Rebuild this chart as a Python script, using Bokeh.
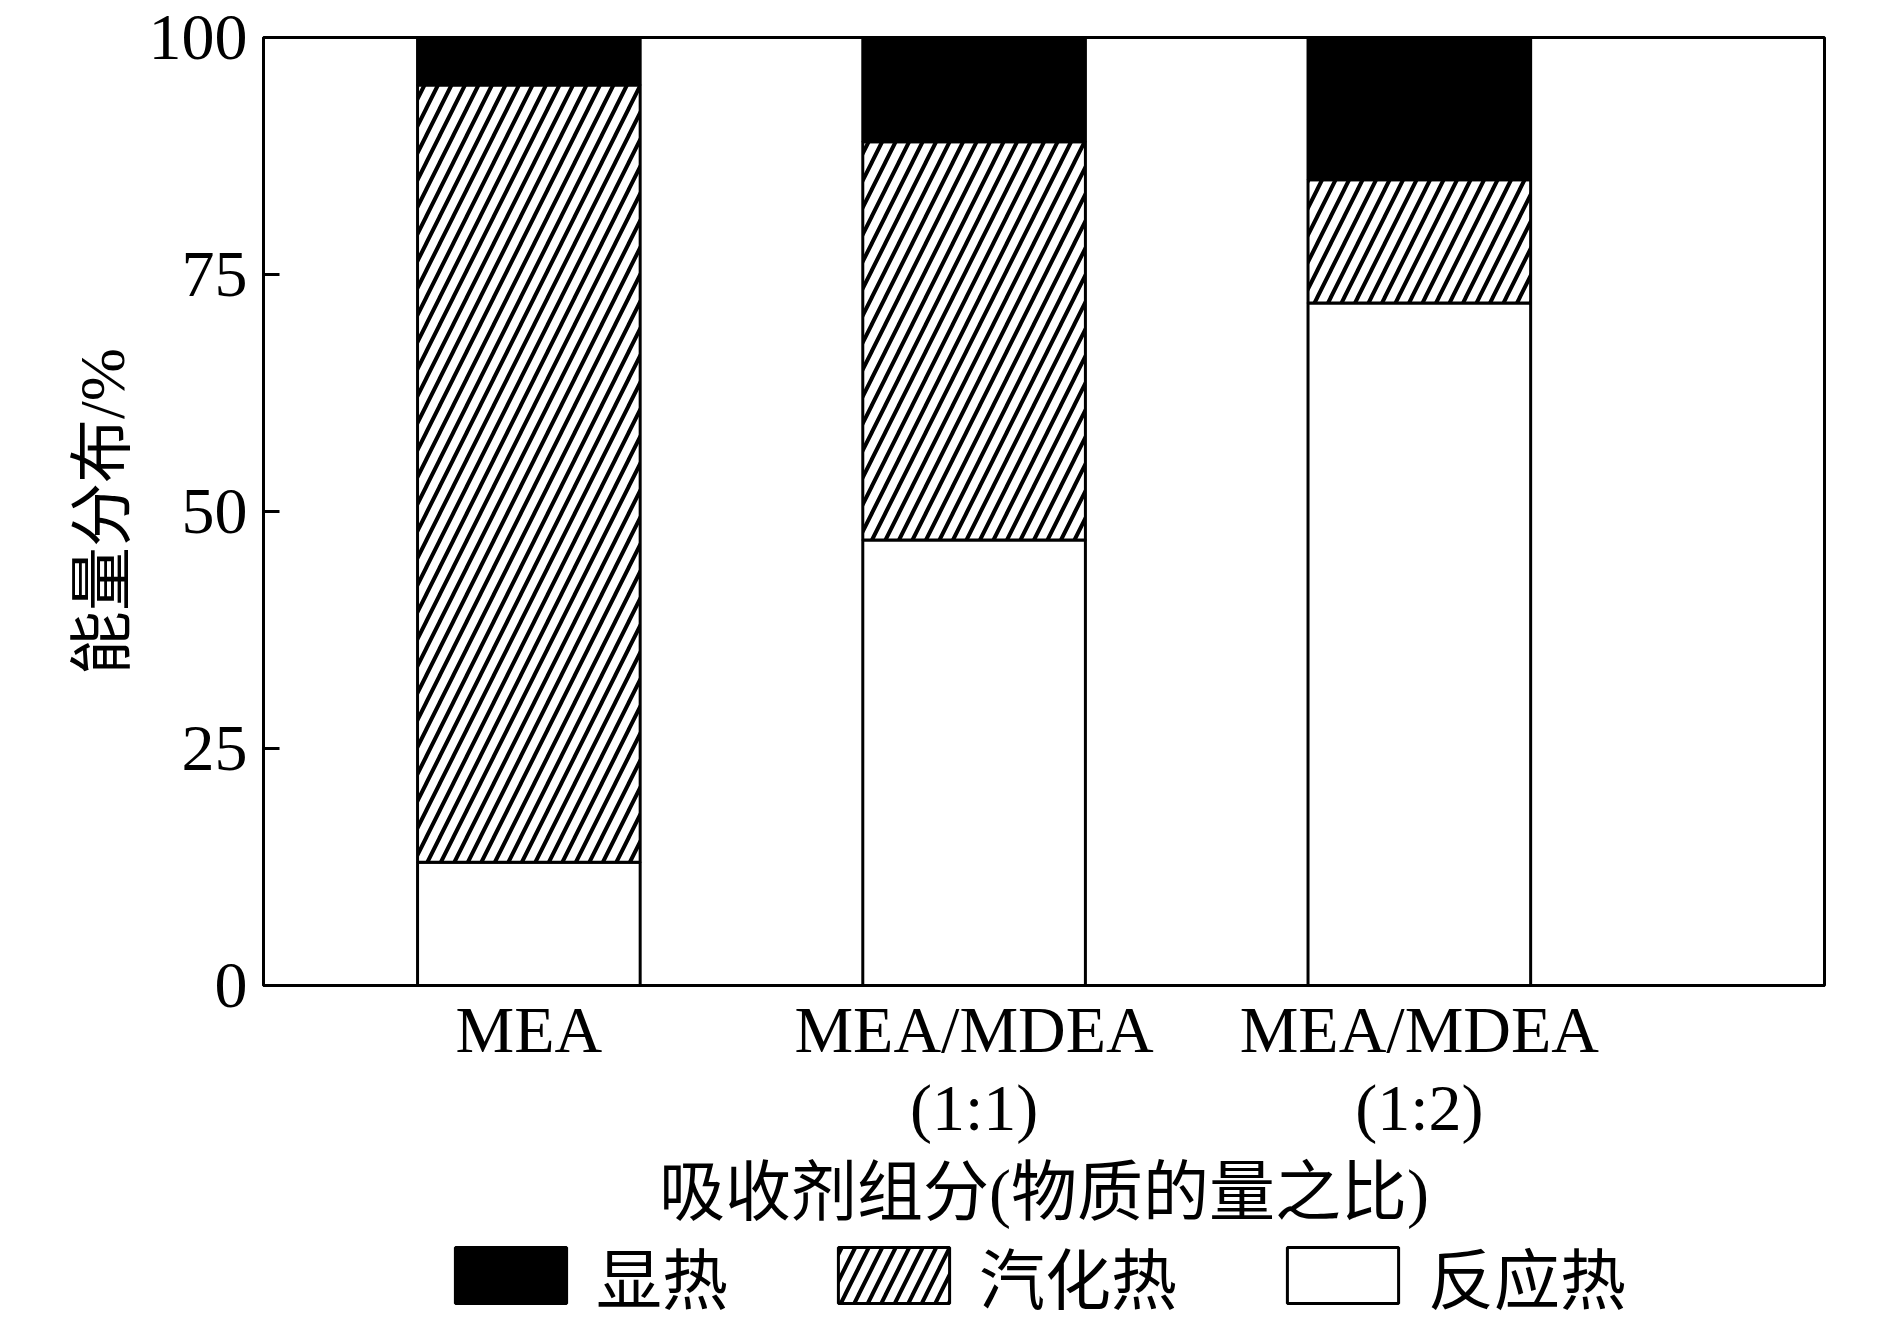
from bokeh.plotting import figure
from bokeh.layouts import column
from bokeh.models import Range1d, FixedTicker, Legend, LegendItem
from bokeh.embed import file_html
from bokeh.resources import INLINE
import numpy as np

# ---- data ----
categories = ["MEA", "MEA/MDEA\n(1:1)", "MEA/MDEA\n(1:2)"]
x_pos = [1, 2, 3]
reaction_heat = [13, 47, 72]        # 反应热
vaporization_heat = [82, 42, 13]    # 汽化热
sensible_heat = [5, 11, 15]         # 显热
y_ticks = [0, 25, 50, 75, 100]
series_names = ["显热", "汽化热", "反应热"]

LATIN = "'Liberation Serif', 'Times New Roman', serif"
MIXED = "'Liberation Serif', 'Noto Sans CJK SC', serif"

r = np.array(reaction_heat, dtype=float)
v = np.array(vaporization_heat, dtype=float)
s = np.array(sensible_heat, dtype=float)

FIG_W = 1874
p = figure(
    frame_width=1561, frame_height=948,
    x_range=Range1d(0.404, 3.91), y_range=Range1d(0, 100),
    output_backend="svg", toolbar_location=None,
    min_border_left=263, min_border_right=50,
    min_border_top=37, min_border_bottom=260,
)
p.background_fill_color = "white"
p.border_fill_color = "white"
p.outline_line_color = "black"
p.outline_line_width = 3
p.xgrid.visible = False
p.ygrid.visible = False

bar_w = 0.5
react_style = dict(fill_color="white", line_color="black", line_width=3)
vap_style = dict(fill_color="white", hatch_pattern="/", hatch_color="black",
                 hatch_weight=4, hatch_scale=27, line_color="black", line_width=3)
sens_style = dict(fill_color="black", line_color="black", line_width=3)

r_react = p.vbar(x=x_pos, bottom=0, top=list(r), width=bar_w, **react_style)
r_vap = p.vbar(x=x_pos, bottom=list(r), top=list(r + v), width=bar_w, **vap_style)
r_sens = p.vbar(x=x_pos, bottom=list(r + v), top=list(r + v + s), width=bar_w, **sens_style)

# x axis
xa = p.xaxis[0]
xa.ticker = FixedTicker(ticks=x_pos)
xa.major_label_overrides = {x: c for x, c in zip(x_pos, categories)}
xa.major_tick_in = 0
xa.major_tick_out = 0
xa.minor_tick_in = 0
xa.minor_tick_out = 0
xa.axis_line_width = 3
xa.axis_line_color = "black"
xa.major_label_text_font = LATIN
xa.major_label_text_font_size = "66px"
xa.major_label_text_color = "black"
xa.major_label_text_line_height = 1.08
xa.major_label_standoff = 7
xa.axis_label = "吸收剂组分(物质的量之比)"
xa.axis_label_text_font = MIXED
xa.axis_label_text_font_size = "66px"
xa.axis_label_text_font_style = "normal"
xa.axis_label_text_color = "black"
xa.axis_label_standoff = 9

# y axis
ya = p.yaxis[0]
ya.ticker = FixedTicker(ticks=y_ticks)
ya.major_tick_in = 16
ya.major_tick_out = 0
ya.minor_tick_in = 0
ya.minor_tick_out = 0
ya.major_tick_line_width = 3
ya.axis_line_width = 3
ya.axis_line_color = "black"
ya.major_label_text_font = LATIN
ya.major_label_text_font_size = "66px"
ya.major_label_text_color = "black"
ya.major_label_standoff = 16
ya.axis_label = "能量分布/%"
ya.axis_label_text_font = MIXED
ya.axis_label_text_font_size = "64px"
ya.axis_label_text_font_style = "normal"
ya.axis_label_text_color = "black"
ya.axis_label_standoff = 8

# ---- legend strip below the chart ----
# hidden proxy renderers (same data) only supply the legend swatches
lg = figure(
    width=FIG_W, height=81,
    x_range=Range1d(4.5, 5.5), y_range=Range1d(0, 100),
    output_backend="svg", toolbar_location=None,
    min_border=0,
)
lg.axis.visible = False
lg.grid.visible = False
lg.outline_line_color = None
lg.background_fill_color = "white"
lg.border_fill_color = "white"
lg_sens = lg.vbar(x=x_pos, bottom=list(r + v), top=list(r + v + s), width=bar_w, **sens_style)
lg_vap = lg.vbar(x=x_pos, bottom=list(r), top=list(r + v), width=bar_w, **vap_style)
lg_react = lg.vbar(x=x_pos, bottom=0, top=list(r), width=bar_w, **react_style)
for rr in (lg_sens, lg_vap, lg_react):
    rr.visible = False

legend = Legend(
    items=[LegendItem(label=series_names[0], renderers=[lg_sens]),
           LegendItem(label=series_names[1], renderers=[lg_vap]),
           LegendItem(label=series_names[2], renderers=[lg_react])],
    orientation="horizontal",
    location=(178, 3),
    glyph_width=139, glyph_height=70,
    label_standoff=16, spacing=96,
    padding=0, margin=0,
    border_line_alpha=0, background_fill_alpha=0,
    label_text_font=MIXED, label_text_font_size="66px",
    label_text_line_height=1.0,
    label_text_color="black", label_height=57,
)
lg.add_layout(legend)

layout = column(p, lg, spacing=0)
open("out.html", "w").write(file_html(layout, INLINE))
